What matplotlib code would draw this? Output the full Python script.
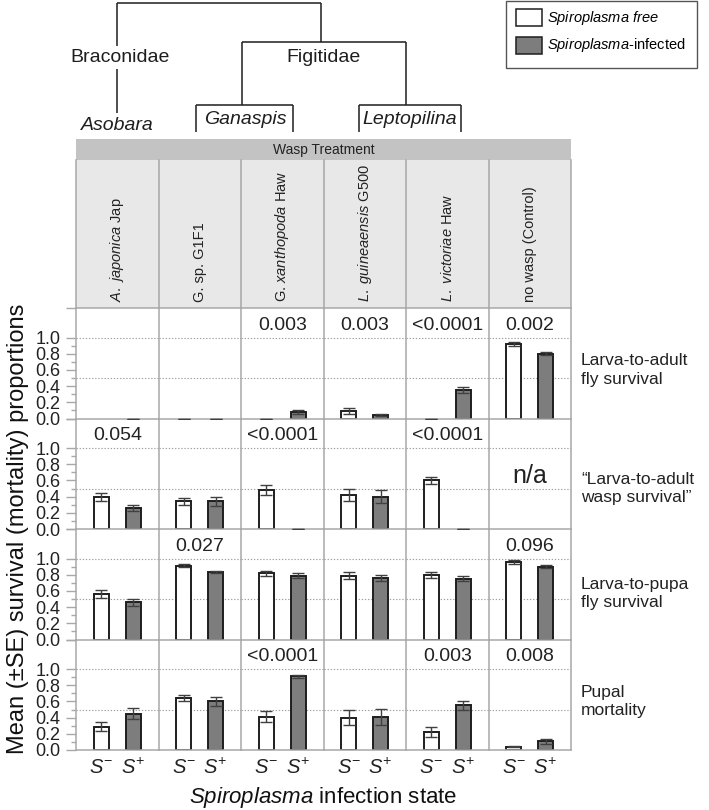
import numpy as np
import matplotlib
matplotlib.use("Agg")
import matplotlib.pyplot as plt
from matplotlib.patches import Rectangle
from matplotlib.ticker import FixedLocator, FixedFormatter

plt.rcParams['font.family'] = ['Liberation Sans', 'DejaVu Sans']
plt.rcParams['mathtext.fontset'] = 'custom'
plt.rcParams['mathtext.rm'] = 'Liberation Sans'
plt.rcParams['mathtext.it'] = 'Liberation Sans:italic'
plt.rcParams['mathtext.bf'] = 'Liberation Sans:bold'

# ---------------- data ----------------
treatments = [r"$\mathit{A.\ japonica}$ Jap", "G. sp. G1F1", r"G. $\mathit{xanthopoda}$ Haw",
              r"$\mathit{L.\ guineaensis}$ G500", r"$\mathit{L.\ victoriae}$ Haw", "no wasp (Control)"]
states = [r"$S^{-}$", r"$S^{+}$"]
row_labels = ["Larva-to-adult\nfly survival", "\u201cLarva-to-adult\nwasp survival\u201d",
              "Larva-to-pupa\nfly survival", "Pupal\nmortality"]

# mean values per treatment: [S-, S+]
fly_adult_mean = [[np.nan, 0.0], [0.0, 0.0], [0.0, 0.08], [0.09, 0.04], [0.0, 0.35], [0.92, 0.80]]
fly_adult_se = [[0.0, 0.0], [0.0, 0.0], [0.0, 0.02], [0.035, 0.01], [0.0, 0.04], [0.02, 0.02]]
fly_adult_p = ["", "", "0.003", "0.003", "<0.0001", "0.002"]

wasp_mean = [[0.39, 0.26], [0.34, 0.34], [0.48, 0.0], [0.42, 0.40], [0.60, 0.0], [np.nan, np.nan]]
wasp_se = [[0.05, 0.035], [0.04, 0.05], [0.06, 0.0], [0.08, 0.08], [0.045, 0.0], [0.0, 0.0]]
wasp_p = ["0.054", "", "<0.0001", "", "<0.0001", ""]

pupa_mean = [[0.56, 0.46], [0.91, 0.83], [0.82, 0.79], [0.79, 0.76], [0.80, 0.75], [0.96, 0.90]]
pupa_se = [[0.05, 0.045], [0.02, 0.015], [0.03, 0.035], [0.04, 0.04], [0.035, 0.03], [0.025, 0.02]]
pupa_p = ["", "0.027", "", "", "", "0.096"]

mort_mean = [[0.29, 0.45], [0.64, 0.60], [0.41, 0.91], [0.40, 0.41], [0.22, 0.55], [0.04, 0.11]]
mort_se = [[0.055, 0.07], [0.04, 0.06], [0.07, 0.02], [0.09, 0.1], [0.06, 0.05], [0.008, 0.03]]
mort_p = ["", "", "<0.0001", "", "0.003", "0.008"]

rows_mean = [fly_adult_mean, wasp_mean, pupa_mean, mort_mean]
rows_se = [fly_adult_se, wasp_se, pupa_se, mort_se]
rows_p = [fly_adult_p, wasp_p, pupa_p, mort_p]
na_cells = [(1, 5)]

yticks = [0.0, 0.2, 0.4, 0.6, 0.8, 1.0]
yminor = [0.1, 0.3, 0.5, 0.7, 0.9]
grid_levels = [0.5, 1.0]
row_label_y = [0.60, 0.50, 0.57, 0.60]

# ---------------- layout ----------------
W, H = 709, 810
fig = plt.figure(figsize=(W / 100, H / 100), dpi=100)

def fx(x):
    return x / W

def fy(y):
    return 1 - y / H

x_left = 76.0
col_w = 82.5
y_top0 = 308.0
row_h = 110.5
px_per_unit = 81.0
ytop = row_h / px_per_unit

sep_color = '#a8a8a8'
white_c = 'white'
gray_c = '#7d7d7d'
edge_c = '#1e1e1e'
err_c = '#404040'
bar_colors = [white_c, gray_c]

# overlay axes in pixel coordinates
ov = fig.add_axes([0, 0, 1, 1])
ov.set_xlim(0, W)
ov.set_ylim(H, 0)
ov.axis('off')

# phylogeny tree
lk = dict(color='#1e1e1e', lw=1.1, solid_capstyle='butt')
ov.plot([117, 321], [2.5, 2.5], **lk)
ov.plot([117, 117], [2.5, 46], **lk)
ov.plot([117, 117], [69, 113], **lk)
ov.plot([321, 321], [2.5, 42], **lk)
ov.plot([242, 406], [42, 42], **lk)
ov.plot([242, 242], [42, 105], **lk)
ov.plot([406, 406], [42, 105], **lk)
ov.plot([196, 293], [105, 105], **lk)
ov.plot([196, 196], [105, 132], **lk)
ov.plot([293, 293], [105, 132], **lk)
ov.plot([359, 461], [105, 105], **lk)
ov.plot([359, 359], [105, 132], **lk)
ov.plot([461, 461], [105, 132], **lk)
ov.text(120, 58, "Braconidae", fontsize=14, ha='center', va='center', color='#1e1e1e')
ov.text(323, 58, "Figitidae", fontsize=14, ha='center', va='center', color='#1e1e1e')
ov.text(117, 125, "Asobara", fontsize=14, style='italic', ha='center', va='center', color='#1e1e1e')
ov.text(245, 120, "Ganaspis", fontsize=14, style='italic', ha='center', va='center', color='#1e1e1e')
ov.text(410, 120, "Leptopilina", fontsize=14, style='italic', ha='center', va='center', color='#1e1e1e')

# legend box
ov.add_patch(Rectangle((506, 1), 191, 67, facecolor='white', edgecolor='#555555', lw=1.0))
ov.add_patch(Rectangle((516, 9), 26, 17, facecolor=white_c, edgecolor=edge_c, lw=1.1))
ov.add_patch(Rectangle((516, 37), 26, 17, facecolor=gray_c, edgecolor=edge_c, lw=1.1))
ov.text(547, 18, r"$\mathit{Spiroplasma\ free}$", fontsize=10.5, va='center', ha='left')
ov.text(547, 45.5, r"$\mathit{Spiroplasma}$-infected", fontsize=10.5, va='center', ha='left')

# header
x_right = x_left + 6 * col_w
ov.add_patch(Rectangle((x_left, 139), x_right - x_left, 21, facecolor='#c3c3c3', edgecolor='none'))
ov.text((x_left + x_right) / 2, 150, "Wasp Treatment", fontsize=10, ha='center', va='center', color='#222222')
ov.add_patch(Rectangle((x_left, 160), x_right - x_left, y_top0 - 160, facecolor='#e8e8e8', edgecolor='none'))
for i in range(7):
    xx = x_left + i * col_w
    ov.plot([xx, xx], [160, y_top0], color=sep_color, lw=1.1)
ov.plot([x_left, x_right], [y_top0, y_top0], color=sep_color, lw=1.1)
for i, t in enumerate(treatments):
    ov.text(x_left + (i + 0.5) * col_w, 302, t, rotation=90, fontsize=10.5,
            ha='center', va='bottom', color='#222222')

# panels
for r in range(4):
    ytop_px = y_top0 + r * row_h
    for c in range(6):
        ax = fig.add_axes([fx(x_left + c * col_w), fy(ytop_px + row_h), col_w / W, row_h / H])
        ax.set_xlim(-0.8, 1.8)
        ax.set_ylim(0, ytop)
        ax.patch.set_alpha(0)
        for s in ['top', 'right']:
            ax.spines[s].set_visible(False)
        if c == 5:
            ax.spines['right'].set_visible(True)
        for s in ['left', 'right', 'bottom']:
            ax.spines[s].set_color(sep_color)
            ax.spines[s].set_linewidth(1.1)
        for g in grid_levels:
            ax.axhline(g, color='#a0a0a0', lw=0.8, ls=(0, (1.2, 1.6)), zorder=0)

        vals = np.array(rows_mean[r][c], dtype=float)
        errs = np.array(rows_se[r][c], dtype=float)
        xs = np.arange(2)
        for k in range(2):
            if np.isfinite(vals[k]) and vals[k] > 0:
                ax.bar(xs[k], vals[k], width=0.47, color=bar_colors[k], edgecolor=edge_c,
                       linewidth=1.4, zorder=2)
        ok = np.isfinite(vals)
        if ok.any():
            ax.errorbar(xs[ok], vals[ok], yerr=errs[ok], fmt='none', ecolor=err_c,
                        elinewidth=1.0, capsize=4.5, capthick=1.0, zorder=3)
        ptxt = rows_p[r][c]
        if ptxt:
            ax.text(0.5, 1.15, ptxt, fontsize=14, ha='center', va='center', color='#222222')
        if (r, c) in na_cells:
            ax.text(0.5, 0.66, "n/a", fontsize=18, ha='center', va='center', color='#222222')

        # y axis
        if c == 0:
            ax.yaxis.set_major_locator(FixedLocator(yticks + [ytop]))
            ax.yaxis.set_major_formatter(FixedFormatter([f"{v:.1f}" for v in yticks] + [""]))
            ax.yaxis.set_minor_locator(FixedLocator(yminor))
            ax.tick_params(axis='y', which='major', length=7, width=1.0, color=sep_color,
                           labelsize=13, labelcolor='#222222', pad=4)
            ax.tick_params(axis='y', which='minor', length=3.5, width=1.0, color=sep_color)
        else:
            ax.set_yticks([])
        # x axis
        ax.set_xticks(xs)
        if r == 3:
            ax.set_xticklabels(states, fontsize=14.5, color='#222222')
            ax.tick_params(axis='x', length=0, pad=6)
        else:
            ax.set_xticklabels([])
            ax.tick_params(axis='x', length=0)

    # row label
    yl = ytop_px + row_h - row_label_y[r] * px_per_unit
    ov.text(581, yl, row_labels[r], fontsize=12.5, ha='left', va='center',
            linespacing=1.3, color='#222222')

fig.text(fx(18), fy((y_top0 + y_top0 + 4 * row_h) / 2), "Mean (\u00b1SE) survival (mortality) proportions",
         rotation=90, fontsize=17, ha='center', va='center', color='#111111')
fig.text(fx((x_left + x_right) / 2), fy(797), r"$\mathit{Spiroplasma}$ infection state",
         fontsize=16, ha='center', va='center', color='#111111')

fig.savefig("out.png", dpi=100)
